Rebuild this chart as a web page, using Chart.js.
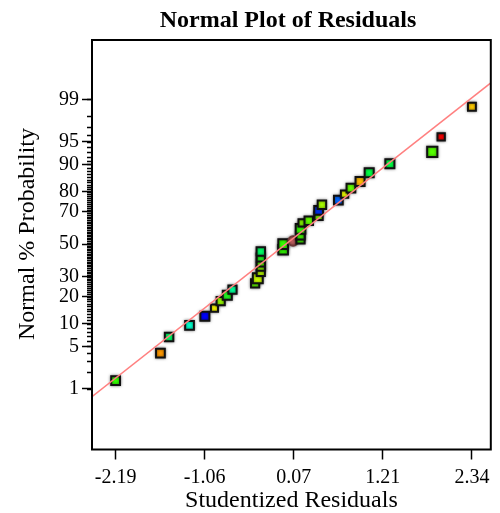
<!DOCTYPE html>
<html>
<head>
<meta charset="utf-8">
<script src="https://cdn.jsdelivr.net/npm/chart.js@4/dist/chart.umd.min.js"></script>
<style>
  html, body { margin: 0; padding: 0; background: #fff; }
  #wrap { width: 500px; height: 513px; }
</style>
</head>
<body>
<div id="wrap"><canvas id="plot"></canvas></div>
<script>
// studentized residuals (x) and normal % probability (y), sorted by rank
const residuals = [-2.19, -1.62, -1.51, -1.25, -1.055, -0.933, -0.854, -0.77, -0.704,
  -0.416, -0.382, -0.344, -0.344, -0.344, -0.344, -0.344, -0.06, -0.06, 0.066,
  0.161, 0.161, 0.161, 0.182, 0.266, 0.391, 0.391, 0.433, 0.642, 0.721, 0.802,
  0.918, 1.034, 1.297, 1.836, 1.949, 2.34];
const probability = [1.41, 4.0, 6.8, 9.6, 12.3, 15.2, 18.0, 20.6, 23.2,
  26.4, 29.2, 32.8, 35.8, 38.5, 41.5, 45.3, 46.4, 50.0, 52.0,
  53.0, 55.5, 59.7, 63.4, 64.6, 67.5, 70.6, 73.6, 76.0, 78.9, 81.6,
  84.3, 87.4, 90.2, 93.1, 95.75, 98.64];
const pointColors = ['#33ff00', '#ff9900', '#00ff66', '#00ffcc', '#0000ff', '#ffff00', '#99ff00', '#22ff22', '#00ff99',
  '#66ff00', '#ccff00', '#bbff00', '#88ff00', '#55ff00', '#22ff22', '#00ff66', '#33ff00', '#33ff00', '#c06060',
  '#44ff00', '#44ff00', '#33ff00', '#88ff00', '#66ff00', '#88ff00', '#0033ff', '#aaff00', '#0066ff', '#eeff00', '#66ff00',
  '#ffbb00', '#00ff44', '#00ff44', '#55ff00', '#ff0000', '#ffcc00'];
const pointSizes = [6.2, 6.2, 6.0, 6.2, 6.4, 5.0, 5.8, 6.4, 5.8,
  5.8, 7.0, 5.8, 5.8, 5.8, 5.8, 6.0, 6.8, 6.8, 4.8,
  5.8, 5.8, 6.8, 5.2, 6.0, 5.8, 6.2, 6.0, 6.2, 5.2, 6.2,
  6.4, 6.4, 6.4, 7.2, 5.2, 5.6];
const pointShapes = residuals.map((r, i) => i === 18 ? 'circle' : 'rect');

// fitted reference line, ends at the plot edges
const lineResid = [-2.49, 2.58];
const linePct = [0.71, 99.52];

const yTickPct = [1, 5, 10, 20, 30, 50, 70, 80, 90, 95, 99];
const xTickVals = [-2.19, -1.0575, 0.075, 1.2075, 2.34];
const xTickLabels = ['-2.19', '-1.06', '0.07', '1.21', '2.34'];

// inverse normal cdf (Acklam)
function probit(p) {
  const a = [-39.69683028665376, 220.9460984245205, -275.9285104469687, 138.3577518672690, -30.66479806614716, 2.506628277459239];
  const b = [-54.47609879822406, 161.5858368580409, -155.6989798598866, 66.80131188771972, -13.28068155288572];
  const c = [-0.007784894002430293, -0.3223964580411365, -2.400758277161838, -2.549732539343734, 4.374664141464968, 2.938163982698783];
  const d = [0.007784695709041462, 0.3224671290700398, 2.445134137142996, 3.754408661907416];
  const pl = 0.02425;
  let q, r;
  if (p < pl) {
    q = Math.sqrt(-2 * Math.log(p));
    return (((((c[0]*q+c[1])*q+c[2])*q+c[3])*q+c[4])*q+c[5]) / ((((d[0]*q+d[1])*q+d[2])*q+d[3])*q+1);
  }
  if (p > 1 - pl) {
    q = Math.sqrt(-2 * Math.log(1 - p));
    return -(((((c[0]*q+c[1])*q+c[2])*q+c[3])*q+c[4])*q+c[5]) / ((((d[0]*q+d[1])*q+d[2])*q+d[3])*q+1);
  }
  q = p - 0.5; r = q * q;
  return (((((a[0]*r+a[1])*r+a[2])*r+a[3])*r+a[4])*r+a[5])*q / (((((b[0]*r+b[1])*r+b[2])*r+b[3])*r+b[4])*r+1);
}

const FONT = "'Liberation Serif', 'Times New Roman', serif";

const framePlugin = {
  id: 'frame',
  beforeDatasetDraw(chart, args) {
    if (args.index === 1) {
      chart.ctx.save();
      chart.ctx.shadowColor = 'rgba(0,0,0,0.5)';
      chart.ctx.shadowBlur = 3;
    }
  },
  afterDatasetDraw(chart, args) {
    if (args.index === 1) chart.ctx.restore();
  },
  afterDraw(chart) {
    const ctx = chart.ctx;
    const a = chart.chartArea;
    const ys = chart.scales.y;
    ctx.save();
    // minor ticks at every whole percent
    ctx.strokeStyle = '#000';
    ctx.lineWidth = 1.5;
    ctx.beginPath();
    for (let p = 1; p <= 99; p++) {
      const py = Math.round(ys.getPixelForValue(probit(p / 100))) + 0.5;
      ctx.moveTo(a.left - 5, py);
      ctx.lineTo(a.left, py);
    }
    ctx.stroke();
    ctx.lineWidth = 2;
    ctx.strokeRect(a.left, a.top, a.right - a.left, a.bottom - a.top);
    ctx.fillStyle = '#000';
    ctx.font = "bold 24px " + FONT;
    ctx.textAlign = 'center';
    ctx.textBaseline = 'middle';
    ctx.fillText('Normal Plot of Residuals', 288, 21);
    // y axis title
    ctx.font = "24px " + FONT;
    ctx.translate(28, 234);
    ctx.rotate(-Math.PI / 2);
    ctx.fillText('Normal % Probability', 0, 0);
    ctx.restore();
  }
};

new Chart(document.getElementById('plot'), {
  data: {
    datasets: [{
      type: 'line',
      data: lineResid.map((x, i) => ({ x: x, y: probit(linePct[i] / 100) })),
      borderColor: '#ff8080',
      borderWidth: 1.5,
      pointRadius: 0,
      fill: false
    }, {
      type: 'scatter',
      data: residuals.map((x, i) => ({ x: x, y: probit(probability[i] / 100) })),
      backgroundColor: pointColors,
      borderColor: pointShapes.map(s => s === 'circle' ? '#703838' : '#111'),
      borderWidth: 2,
      pointRadius: pointSizes,
      pointStyle: pointShapes
    }]
  },
  options: {
    responsive: true,
    maintainAspectRatio: false,
    animation: false,
    layout: { padding: { top: 40, right: 3, left: 0, bottom: 0 } },
    plugins: { legend: { display: false }, tooltip: { enabled: false }, title: { display: false } },
    scales: {
      x: {
        type: 'linear',
        min: -2.49,
        max: 2.58,
        afterBuildTicks: s => { s.ticks = xTickVals.map(v => ({ value: v })); },
        afterFit: s => { s.height = 63.5; },
        ticks: {
          callback: (v, i) => xTickLabels[i],
          color: '#000',
          font: { family: FONT, size: 20 },
          padding: 6,
          maxRotation: 0
        },
        grid: { drawOnChartArea: false, tickLength: 10, tickColor: '#000', tickWidth: 1.5 },
        border: { display: false },
        title: { display: true, text: 'Studentized Residuals', color: '#000', font: { family: FONT, size: 24 }, padding: { top: 0, bottom: -2 } }
      },
      y: {
        type: 'linear',
        min: -3.30,
        max: 3.28,
        afterBuildTicks: s => { s.ticks = yTickPct.map(p => ({ value: probit(p / 100) })); },
        afterFit: s => { s.width = 92; },
        ticks: {
          callback: (v, i) => String(yTickPct[i]),
          color: '#000',
          font: { family: FONT, size: 20 },
          padding: 3,
          autoSkip: false
        },
        grid: { drawOnChartArea: false, tickLength: 10, tickColor: '#000', tickWidth: 1.5 },
        border: { display: false },
        title: { display: false }
      }
    }
  },
  plugins: [framePlugin]
});
</script>
</body>
</html>
